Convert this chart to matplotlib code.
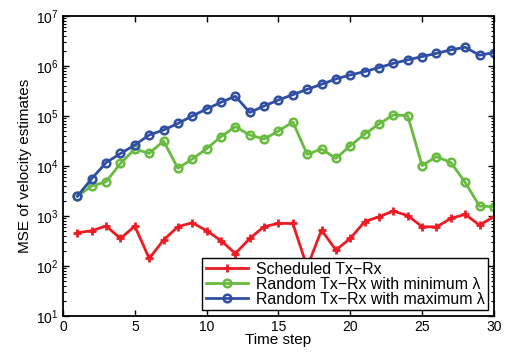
import numpy as np
import matplotlib
matplotlib.use('Agg')
import matplotlib.pyplot as plt
from matplotlib.ticker import FixedLocator, NullFormatter

plt.rcParams['font.family'] = ['Liberation Sans', 'DejaVu Sans']
plt.rcParams['mathtext.default'] = 'regular'

# Dados
time_step = np.arange(1, 31)
mse_scheduled = [464, 510, 631, 357, 631, 142, 331, 614, 735, 510,
                 323, 178, 357, 614, 713, 713, 95, 525, 209, 357,
                 770, 970, 1260, 1020, 614, 605, 895, 1080, 660, 970]
mse_random_min = [2500, 3980, 4860, 11300, 21900, 17900, 31600, 9000, 13800, 22200,
                  38600, 61100, 41700, 34700, 50100, 75900, 17100, 21900, 14200, 25500,
                  43200, 69200, 105000, 102000, 10200, 15400, 11800, 4720, 1580, 1540]
mse_random_max = [2500, 5600, 11700, 17800, 26300, 41700, 52500, 71000, 100000, 138000,
                  188000, 248000, 118000, 158000, 209000, 267000, 341000, 430000, 550000, 661000,
                  771000, 927000, 1.13e6, 1.32e6, 1.54e6, 1.79e6, 2.09e6, 2.37e6, 1.64e6, 1.85e6]
labels = ['Scheduled Tx\u2212Rx',
          'Random Tx\u2212Rx with minimum \u03bb',
          'Random Tx\u2212Rx with maximum \u03bb']
y_ticks = [1e1, 1e2, 1e3, 1e4, 1e5, 1e6, 1e7]

fig = plt.figure(figsize=(5.05, 3.54), dpi=100)
ax = fig.add_axes([0.1248, 0.107, 0.8532, 0.848])

ax.semilogy(time_step, mse_scheduled, color='#ec1c24', lw=2, marker='+',
            ms=6, mew=2, label=labels[0])
ax.semilogy(time_step, mse_random_min, color='#67bb3f', lw=2, marker='o',
            ms=5.5, mew=1.8, mfc='none', label=labels[1])
ax.semilogy(time_step, mse_random_max, color='#2f4fa5', lw=2, marker='o',
            ms=5.5, mew=1.8, mfc='none', label=labels[2])

ax.set_xlim(0, 30)
ax.set_ylim(1e1, 1e7)
ax.set_xticks(range(0, 31, 5))
ax.set_yticks(y_ticks)
minor = [m * 10.0**e for e in range(1, 7) for m in range(2, 10)]
ax.yaxis.set_minor_locator(FixedLocator(minor))
ax.yaxis.set_minor_formatter(NullFormatter())
ax.tick_params(which='both', direction='in', top=True, right=True, labelsize=10)
ax.tick_params(which='major', length=4, width=1, pad=3)
ax.tick_params(which='minor', length=2, width=0.8)
for s in ax.spines.values():
    s.set_linewidth(1.3)

ax.set_xlabel('Time step', fontsize=11, labelpad=-1)
ax.set_ylabel('MSE of velocity estimates', fontsize=11, labelpad=3)

leg = ax.legend(loc='lower right', fontsize=11.4, fancybox=False, framealpha=1,
                edgecolor='black', handlelength=2.7, handletextpad=0.45,
                borderpad=0.2, labelspacing=0.0, borderaxespad=0.4)
leg.get_frame().set_linewidth(1)

fig.savefig('out.png', dpi=100)
